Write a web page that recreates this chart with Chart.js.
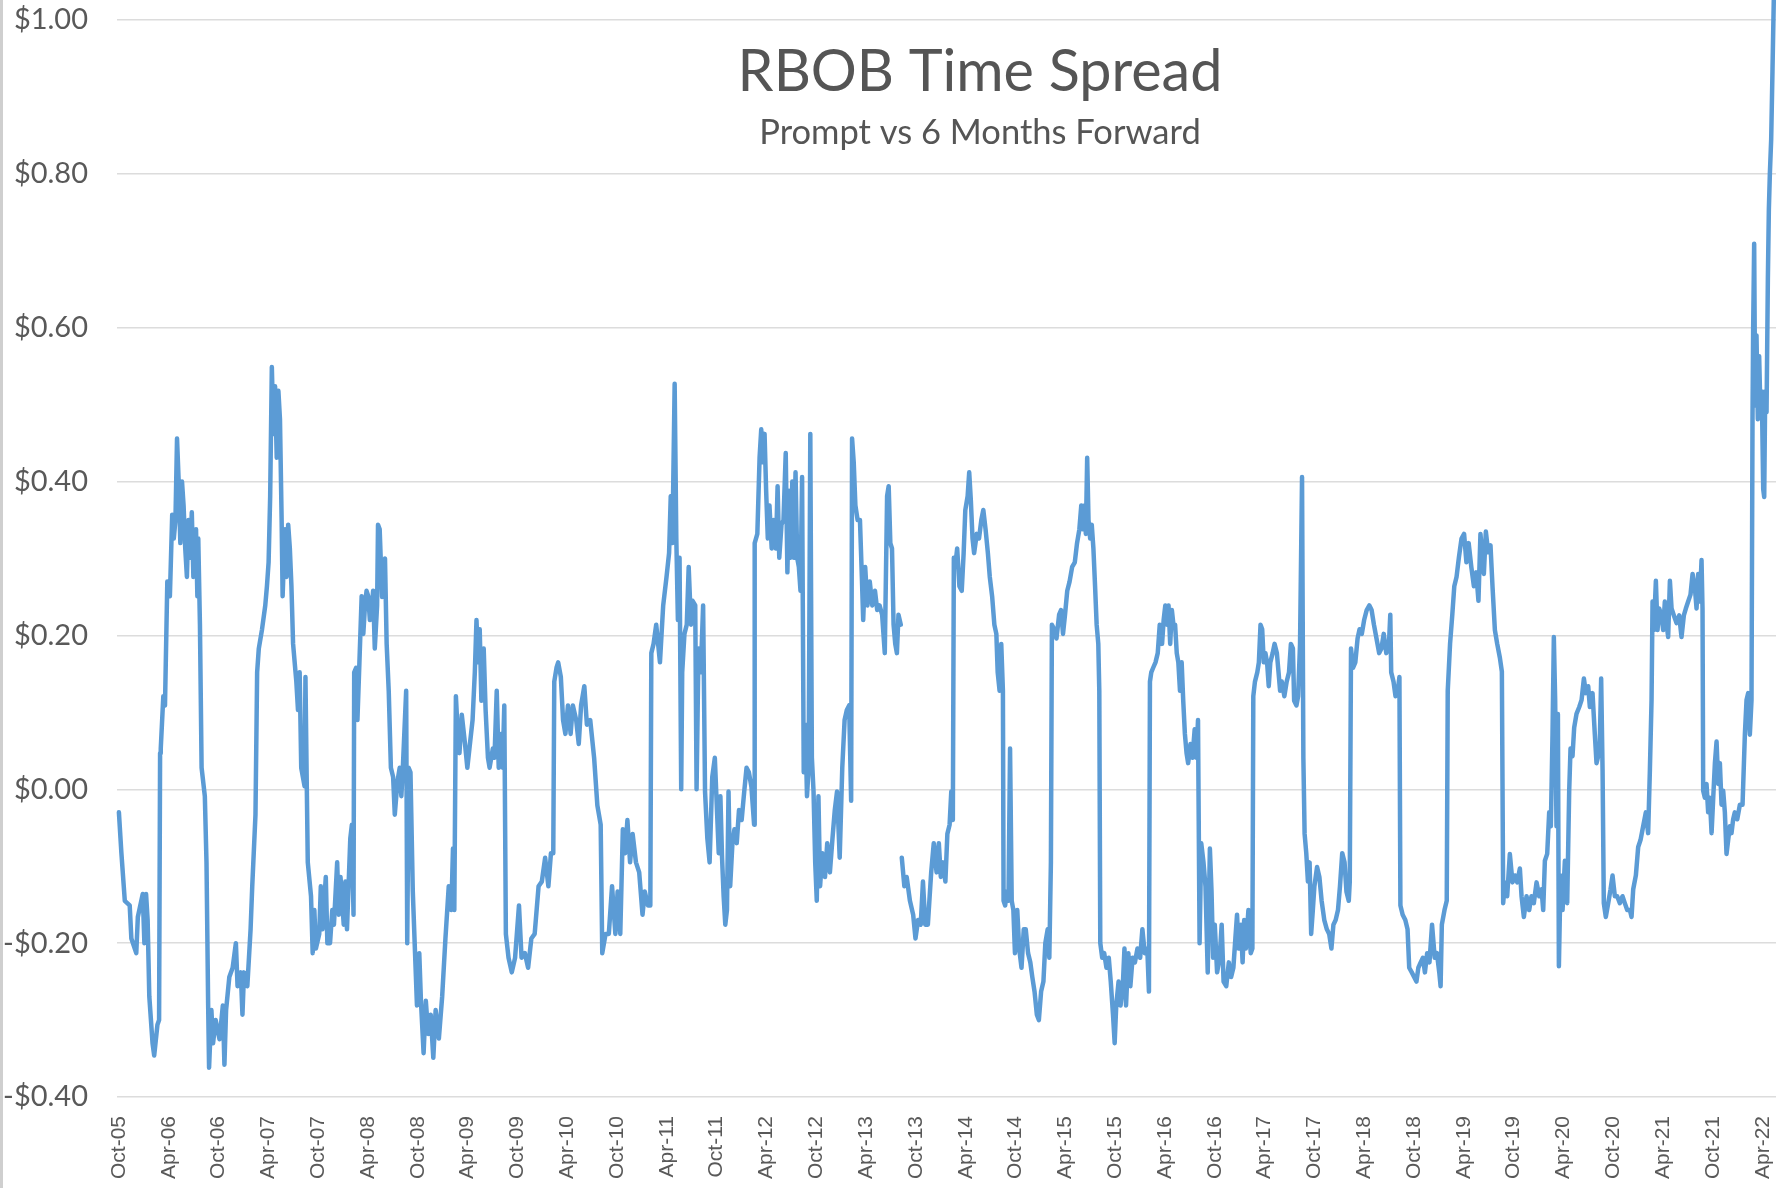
<!DOCTYPE html>
<html>
<head>
<meta charset="utf-8">
<script src="https://cdn.jsdelivr.net/npm/chart.js@4.4.1/dist/chart.umd.min.js"></script>
<style>
  html, body { margin: 0; padding: 0; background: #ffffff; }
  #wrap { width: 1776px; height: 1188px; position: relative; }
  canvas { display: block; }
</style>
</head>
<body>
<div id="wrap"><canvas id="c" width="1776" height="1188"></canvas></div>
<script>
// ---- Data (x = months since Oct-2005, y = spread in $/gal) ----
const chartTitle = 'RBOB Time Spread';
const chartSubtitle = 'Prompt vs 6 Months Forward';

const xTickMonths = [0,6,12,18,24,30,36,42,48,54,60,66,72,78,84,90,96,102,108,114,120,126,132,138,144,150,156,162,168,174,180,186,192,198];
const xTickLabels = ['Oct-05','Apr-06','Oct-06','Apr-07','Oct-07','Apr-08','Oct-08','Apr-09','Oct-09','Apr-10','Oct-10','Apr-11','Oct-11','Apr-12','Oct-12','Apr-13','Oct-13','Apr-14','Oct-14','Apr-15','Oct-15','Apr-16','Oct-16','Apr-17','Oct-17','Apr-18','Oct-18','Apr-19','Oct-19','Apr-20','Oct-20','Apr-21','Oct-21','Apr-22'];

const yTickValues = [-0.4,-0.2,0,0.2,0.4,0.6,0.8,1.0];
const yTickLabels = ['-$0.40','-$0.20','$0.00','$0.20','$0.40','$0.60','$0.80','$1.00'];

const months = [
0,0.3,0.71,1.3,1.5,2.09,2.28,2.87,3.07,3.27,3.46,3.66,4.05,4.25,4.64,4.84,4.96,5.04,5.35,5.55,5.83,6.14,6.42,6.61,6.81,7.0,7.2,7.4,7.6,7.79,7.99,8.19,8.38,8.58,8.78,8.97,9.29,9.45,9.56,9.76,9.96,10.35,10.55,10.75,10.86,11.14,11.34,11.65,12.12,12.52,12.71,12.91,13.3,13.7,14.09,14.29,14.68,14.88,15.07,15.47,15.86,16.06,16.45,16.65,16.85,17.24,17.63,17.83,18.03,18.22,18.42,18.62,18.81,19.01,19.21,19.4,19.6,19.72,20.0,20.19,20.39,20.59,20.78,20.98,21.37,21.57,21.77,21.96,22.36,22.47,22.63,22.75,23.14,23.34,23.54,23.73,24.13,24.32,24.52,24.92,25.11,25.43,25.7,25.9,26.29,26.49,26.69,27.08,27.28,27.47,27.87,28.06,28.26,28.34,28.58,28.73,28.97,29.24,29.44,29.64,29.83,30.03,30.23,30.42,30.62,30.82,31.1,31.21,31.41,31.7,32.05,32.25,
32.5,32.76,33.03,33.23,33.55,33.82,34.02,34.2,34.6,34.73,34.9,35.12,35.4,35.67,35.9,36.18,36.38,36.7,36.97,37.25,37.56,37.87,38.15,38.54,38.94,39.33,39.73,40.04,40.24,40.4,40.59,40.79,41.02,41.3,41.69,41.97,42.28,42.6,42.87,43.07,43.27,43.46,43.66,43.94,44.17,44.45,44.65,45.04,45.24,45.51,45.75,46.02,46.22,46.42,46.61,46.93,47.32,47.72,48.19,48.5,48.9,49.29,49.68,50.08,50.55,50.94,51.34,51.73,52.04,52.32,52.44,52.71,52.91,53.23,53.5,53.78,54.09,54.41,54.68,55.08,55.39,55.67,56.06,56.37,56.77,57.24,57.63,58.03,58.22,58.62,59.01,59.4,59.8,60.07,60.39,60.7,60.98,61.25,61.57,61.88,62.28,62.67,63.07,63.34,63.73,64.01,64.13,64.4,64.72,
65.17,65.56,65.96,66.27,66.47,66.67,66.94,67.14,67.33,67.53,67.73,67.85,68.12,68.4,68.63,68.91,69.1,69.42,69.58,69.81,70.09,70.37,70.6,70.88,71.15,71.47,71.78,72.06,72.25,72.45,72.65,72.84,73.04,73.24,73.43,73.63,73.9,74.14,74.42,74.69,75.01,75.32,75.6,75.88,76.19,76.51,76.58,76.9,77.17,77.37,77.57,77.77,77.96,78.16,78.36,78.63,78.87,79.14,79.34,79.54,79.81,80.05,80.32,80.52,80.72,80.91,81.11,81.31,81.5,81.7,81.9,82.1,82.29,82.49,82.69,82.88,83.08,83.28,83.47,83.67,83.87,84.06,84.26,84.46,84.73,85.05,85.32,85.64,85.95,86.23,86.5,86.82,87.13,87.41,87.68,87.96,88.2,88.31,88.51,88.71,88.98,89.26,89.49,89.65,89.89,90.16,90.44,90.75,91.07,91.34,91.62,91.93,92.25,92.53,92.72,92.92,93.12,93.31,93.51,93.71,93.9,94.18,94.24,
94.3,94.61,94.89,95.28,95.67,95.95,96.26,96.58,96.85,97.13,97.44,97.84,98.15,98.49,98.76,99.0,99.27,99.55,99.79,100.06,100.26,100.45,100.57,100.73,100.97,101.24,101.52,101.75,101.95,102.23,102.42,102.62,102.82,103.01,103.33,103.6,103.88,104.12,104.39,104.67,104.9,105.18,105.45,105.69,105.85,106.08,106.28,106.48,106.56,106.75,106.95,107.15,107.34,107.54,107.74,107.93,108.21,108.44,108.72,108.99,109.23,109.51,109.78,110.02,110.29,110.57,110.81,111.08,111.36,111.59,111.87,112.07,112.26,112.38,112.66,112.93,113.25,113.48,113.72,113.96,114.23,114.51,114.82,115.14,115.41,115.69,115.92,116.08,116.32,116.47,116.63,116.79,116.99,117.18,117.38,117.58,117.77,117.97,118.09,118.21,118.44,118.68,118.95,119.23,119.47,119.74,119.94,120.13,120.41,120.65,120.92,121.12,121.31,121.59,121.83,122.1,122.38,122.69,123.01,123.28,123.56,123.87,124.07,124.19,124.35,124.58,124.86,125.13,125.37,125.65,125.84,126.04,126.24,126.43,126.63,126.83,127.02,127.22,127.42,127.61,127.81,128.01,128.2,128.4,128.6,128.79,129.07,129.31,129.58,129.78,129.98,130.17,130.37,130.64,130.88,131.15,
131.41,131.61,131.8,132.0,132.28,132.59,132.83,133.06,133.38,133.69,133.97,134.24,134.48,134.68,134.87,135.15,135.35,135.54,135.74,136.05,136.33,136.53,136.64,136.84,137.12,137.31,137.51,137.71,137.9,138.1,138.3,138.5,138.69,138.97,139.2,139.48,139.68,139.87,140.07,140.38,140.66,140.94,141.17,141.41,141.56,141.84,142.04,142.27,142.51,142.67,142.82,143.02,143.22,143.42,143.61,143.81,144.0,144.32,144.6,144.87,145.19,145.5,145.78,146.05,146.29,146.56,146.84,147.08,147.35,147.63,147.86,148.14,148.26,148.41,148.65,148.93,149.2,149.44,149.71,149.99,150.3,150.62,150.89,151.17,151.48,151.8,152.07,152.35,152.66,152.98,153.14,153.25,153.53,153.77,154.04,154.24,154.36,154.63,154.95,155.22,155.42,155.73,156.01,156.29,156.52,156.8,157.07,157.31,157.58,157.86,158.17,158.49,158.76,159.04,159.2,159.35,159.67,159.94,160.06,160.34,160.61,160.85,161.12,161.4,161.72,162.03,162.31,162.58,162.9,163.21,163.49,163.76,164.0,
164.41,164.65,164.93,165.21,165.46,165.74,166.02,166.34,166.58,166.74,166.94,167.22,167.54,167.86,168.15,168.43,168.75,168.95,169.23,169.55,169.87,170.15,170.43,170.76,171.08,171.36,171.56,171.76,172.04,172.28,172.48,172.68,172.84,173.0,173.16,173.33,173.45,173.65,173.89,174.17,174.45,174.69,174.85,175.09,175.29,175.57,175.9,176.18,176.46,176.7,176.98,177.18,177.5,177.78,177.98,178.18,178.38,178.54,178.71,178.86,179.1,179.39,179.67,179.91,180.19,180.47,180.79,181.11,181.39,181.68,182.0,182.2,182.4,182.72,183.0,183.28,183.6,183.92,184.2,184.41,184.61,184.73,184.89,185.13,185.33,185.53,185.81,186.01,186.21,186.41,186.61,186.82,187.02,187.3,187.62,187.94,188.22,188.5,188.74,189.02,189.3,189.55,189.83,190.03,190.23,190.43,190.63,190.75,190.83,191.03,191.23,191.43,191.63,191.84,192.04,192.24,192.44,192.64,192.84,193.04,193.24,193.44,193.64,193.84,194.04,194.24,194.44,194.64,194.93,195.25,195.57,195.85,196.05,196.25,196.45,196.65,196.77,196.85,196.97,197.09,197.25,197.41,197.57,197.73,197.89,198.06,198.18,198.3,198.46,198.62,198.74,198.86,199.02,199.18,199.34
];

const spread = [
-0.03,-0.083,-0.145,-0.151,-0.194,-0.213,-0.166,-0.136,-0.2,-0.136,-0.17,-0.269,-0.33,-0.346,-0.306,-0.3,0.047,0.053,0.121,0.109,0.27,0.251,0.357,0.326,0.35,0.456,0.4,0.32,0.4,0.369,0.313,0.276,0.35,0.301,0.36,0.276,0.338,0.251,0.326,0.214,0.028,-0.009,-0.095,-0.281,-0.362,-0.287,-0.33,-0.3,-0.325,-0.281,-0.358,-0.287,-0.244,-0.232,-0.2,-0.256,-0.238,-0.293,-0.238,-0.256,-0.182,-0.126,-0.033,0.152,0.183,0.208,0.239,0.264,0.295,0.381,0.549,0.462,0.524,0.431,0.518,0.481,0.35,0.251,0.338,0.276,0.344,0.313,0.264,0.189,0.14,0.103,0.152,0.028,0.004,0.146,0.004,-0.095,-0.139,-0.213,-0.157,-0.207,-0.188,-0.126,-0.182,-0.114,-0.2,-0.2,-0.157,-0.176,-0.095,-0.163,-0.114,-0.176,-0.12,-0.182,-0.064,-0.046,-0.163,0.152,0.158,0.09,0.165,0.251,0.202,0.239,0.258,0.251,0.22,0.227,0.258,0.183,0.239,0.344,0.338,0.25,0.3,0.189,
0.128,0.028,0.016,-0.033,0.01,0.028,-0.009,0.028,0.128,-0.2,0.028,0.022,-0.133,-0.213,-0.281,-0.213,-0.275,-0.343,-0.275,-0.318,-0.293,-0.349,-0.287,-0.324,-0.269,-0.194,-0.126,-0.157,-0.077,-0.157,0.121,0.078,0.047,0.097,0.059,0.028,0.059,0.09,0.152,0.22,0.165,0.208,0.115,0.183,0.103,0.041,0.028,0.053,0.041,0.128,0.028,0.072,0.028,0.109,-0.188,-0.219,-0.238,-0.219,-0.151,-0.219,-0.213,-0.232,-0.194,-0.188,-0.126,-0.12,-0.089,-0.126,-0.083,-0.083,0.14,0.158,0.165,0.146,0.09,0.072,0.109,0.072,0.109,0.09,0.059,0.109,0.134,0.084,0.09,0.041,-0.021,-0.046,-0.213,-0.188,-0.188,-0.126,-0.188,-0.133,-0.188,-0.052,-0.083,-0.04,-0.095,-0.058,-0.095,-0.108,-0.163,-0.133,-0.151,-0.151,0.177,0.189,0.214,
0.165,0.239,0.276,0.307,0.381,0.32,0.527,0.326,0.22,0.301,0.0,0.152,0.202,0.214,0.289,0.214,0.245,0.239,0.0,0.183,0.152,0.239,-0.003,-0.064,-0.095,0.016,0.041,-0.033,-0.083,-0.009,-0.089,-0.139,-0.176,-0.157,-0.003,-0.126,-0.07,-0.052,-0.07,-0.027,-0.04,-0.003,0.028,0.022,0.003,-0.046,0.32,0.332,0.431,0.468,0.425,0.462,0.388,0.326,0.369,0.313,0.35,0.313,0.394,0.301,0.344,0.35,0.437,0.282,0.388,0.301,0.4,0.301,0.412,0.301,0.289,0.258,0.406,0.022,0.084,-0.009,0.028,0.462,0.041,-0.003,-0.095,-0.145,-0.009,-0.126,-0.083,-0.114,-0.07,-0.108,-0.064,-0.027,-0.003,-0.089,0.028,0.09,0.103,0.109,-0.015,0.456,0.425,0.369,0.35,0.35,0.276,0.22,0.289,0.239,0.27,0.239,0.258,0.233,0.239,0.227,0.177,0.381,0.394,0.32,0.313,0.214,0.189,0.177,0.227,0.214,null,
-0.089,-0.126,-0.114,-0.145,-0.163,-0.194,-0.17,-0.176,-0.12,-0.176,-0.176,-0.108,-0.07,-0.108,-0.07,-0.114,-0.095,-0.12,-0.058,-0.046,-0.003,-0.04,0.301,0.289,0.313,0.264,0.258,0.307,0.363,0.381,0.412,0.375,0.326,0.307,0.332,0.326,0.35,0.363,0.338,0.307,0.276,0.251,0.214,0.202,0.152,0.128,0.189,0.128,-0.145,-0.151,-0.133,-0.145,0.053,-0.145,-0.157,-0.213,-0.157,-0.207,-0.232,-0.182,-0.182,-0.213,-0.225,-0.244,-0.263,-0.293,-0.3,-0.263,-0.25,-0.2,-0.182,-0.219,-0.095,0.214,0.208,0.196,0.227,0.233,0.202,0.227,0.258,0.27,0.289,0.295,0.32,0.338,0.369,0.338,0.369,0.332,0.431,0.35,0.326,0.344,0.313,0.264,0.214,0.189,0.128,-0.2,-0.219,-0.213,-0.232,-0.219,-0.25,-0.293,-0.33,-0.281,-0.25,-0.281,-0.256,-0.207,-0.281,-0.213,-0.256,-0.219,-0.225,-0.207,-0.219,-0.182,-0.213,-0.207,-0.263,0.14,0.152,0.158,0.165,0.177,0.214,0.189,0.22,0.239,0.214,0.239,0.189,0.233,0.214,0.214,0.177,0.165,0.128,0.165,0.115,0.072,0.047,0.034,0.059,0.041,0.078,0.041,0.09,-0.2,-0.07,-0.095,-0.126,-0.238,
-0.077,-0.133,-0.219,-0.176,-0.238,-0.219,-0.176,-0.25,-0.256,-0.225,-0.244,-0.232,-0.194,-0.163,-0.207,-0.176,-0.225,-0.17,-0.207,-0.157,-0.213,-0.207,0.121,0.14,0.152,0.165,0.214,0.208,0.165,0.177,0.165,0.134,0.165,0.177,0.189,0.177,0.152,0.128,0.14,0.121,0.14,0.152,0.189,0.183,0.115,0.109,0.121,0.189,0.406,0.041,-0.058,-0.083,-0.12,-0.095,-0.188,-0.157,-0.126,-0.101,-0.114,-0.145,-0.17,-0.182,-0.188,-0.207,-0.176,-0.17,-0.157,-0.126,-0.083,-0.095,-0.133,-0.145,-0.12,0.183,0.158,0.165,0.196,0.208,0.202,0.22,0.233,0.239,0.233,0.214,0.196,0.177,0.183,0.202,0.177,0.189,0.227,0.152,0.14,0.121,0.128,0.146,-0.151,-0.163,-0.17,-0.182,-0.232,-0.238,-0.244,-0.25,-0.232,-0.225,-0.219,-0.238,-0.213,-0.225,-0.176,-0.219,-0.213,-0.238,-0.256,-0.176,-0.157,-0.145,0.128,0.189,0.227,0.264,0.276,0.301,0.326,0.332,0.295,0.32,0.289,0.264,0.282,0.245,0.332,
0.28,0.335,0.308,0.317,0.262,0.207,0.189,0.171,0.153,-0.148,-0.121,-0.139,-0.084,-0.121,-0.112,-0.121,-0.103,-0.139,-0.166,-0.139,-0.157,-0.139,-0.148,-0.121,-0.139,-0.13,-0.157,-0.093,-0.084,-0.03,-0.048,0.071,0.198,0.116,-0.048,0.098,-0.23,-0.112,-0.157,-0.093,-0.148,-0.002,0.053,0.043,0.08,0.098,0.107,0.116,0.144,0.125,0.134,0.107,0.125,0.071,0.034,0.043,0.062,0.144,0.025,-0.148,-0.166,-0.148,-0.13,-0.112,-0.139,-0.139,-0.148,-0.139,-0.148,-0.157,-0.157,-0.166,-0.13,-0.112,-0.075,-0.066,-0.048,-0.03,-0.057,0.025,0.116,0.244,0.207,0.271,0.207,0.235,0.226,0.207,0.244,0.216,0.198,0.271,0.235,0.226,0.216,0.226,0.198,0.226,0.235,0.244,0.253,0.28,0.262,0.235,0.28,0.244,0.298,0.235,-0.002,-0.011,0.007,-0.03,-0.011,-0.057,-0.011,0.034,0.062,0.007,0.034,-0.02,-0.002,-0.03,-0.084,-0.066,-0.048,-0.057,-0.039,-0.03,-0.039,-0.02,-0.02,0.071,0.116,0.125,0.071,0.116,0.481,0.6,0.709,0.499,0.59,0.481,0.563,0.49,0.517,0.39,0.38,0.517,0.49,0.663,0.754,0.8,0.845,0.936,1.03
];

// ---- Chart ----
const points = months.map((m, i) => ({ x: m, y: spread[i] }));

const decorPlugin = {
  id: 'decor',
  beforeDraw(chart) {
    const ctx = chart.ctx;
    ctx.save();
    ctx.fillStyle = '#ffffff';
    ctx.fillRect(0, 0, chart.width, chart.height);
    ctx.strokeStyle = '#cfcfcf';
    ctx.lineWidth = 3;
    ctx.beginPath();
    ctx.moveTo(1.5, 0);
    ctx.lineTo(1.5, chart.height);
    ctx.stroke();
    ctx.restore();
  },
  afterDraw(chart) {
    const ctx = chart.ctx;
    ctx.save();
    ctx.fillStyle = '#555555';
    ctx.textAlign = 'center';
    ctx.textBaseline = 'alphabetic';
    ctx.font = '57.5px Lato';
    ctx.fillText(chartTitle, 980, 91);
    ctx.font = '34.5px Lato';
    ctx.fillText(chartSubtitle, 980, 144);
    ctx.restore();
  }
};

new Chart(document.getElementById('c'), {
  type: 'line',
  data: {
    datasets: [{
      data: points,
      borderColor: '#5B9BD5',
      backgroundColor: '#5B9BD5',
      borderWidth: 4.5,
      pointRadius: 0,
      tension: 0,
      spanGaps: false,
      borderJoinStyle: 'round',
      borderCapStyle: 'round',
      clip: false
    }]
  },
  options: {
    responsive: false,
    animation: false,
    devicePixelRatio: 1,
    layout: { padding: { top: 20, right: 0, left: 0, bottom: 0 } },
    plugins: { legend: { display: false }, tooltip: { enabled: false }, title: { display: false } },
    scales: {
      x: {
        type: 'linear',
        min: -0.23,
        max: 199.6,
        grid: { display: false, drawTicks: false },
        border: { display: false },
        afterBuildTicks: (scale) => { scale.ticks = xTickMonths.map(v => ({ value: v })); },
        afterFit: (scale) => { scale.height = 91; scale.paddingLeft = 0; scale.paddingRight = 0; scale.paddingTop = 0; scale.paddingBottom = 0; },
        ticks: {
          autoSkip: false,
          maxRotation: 90,
          minRotation: 90,
          padding: 19,
          color: '#595959',
          font: { family: '"Liberation Sans", Arial, sans-serif', size: 21 },
          callback: (v, i) => xTickLabels[i]
        }
      },
      y: {
        type: 'linear',
        min: -0.4,
        max: 1.0,
        grid: { color: '#dcdcdc', lineWidth: 1.5, drawTicks: false },
        border: { display: false },
        afterBuildTicks: (scale) => { scale.ticks = yTickValues.map(v => ({ value: v })); },
        afterFit: (scale) => { scale.width = 117; scale.paddingTop = 0; scale.paddingBottom = 0; scale.paddingLeft = 0; scale.paddingRight = 0; },
        ticks: {
          padding: 29,
          color: '#595959',
          font: { family: 'Lato', size: 29 },
          callback: (v, i) => yTickLabels[i]
        }
      }
    }
  },
  plugins: [decorPlugin]
});
</script>
</body>
</html>
